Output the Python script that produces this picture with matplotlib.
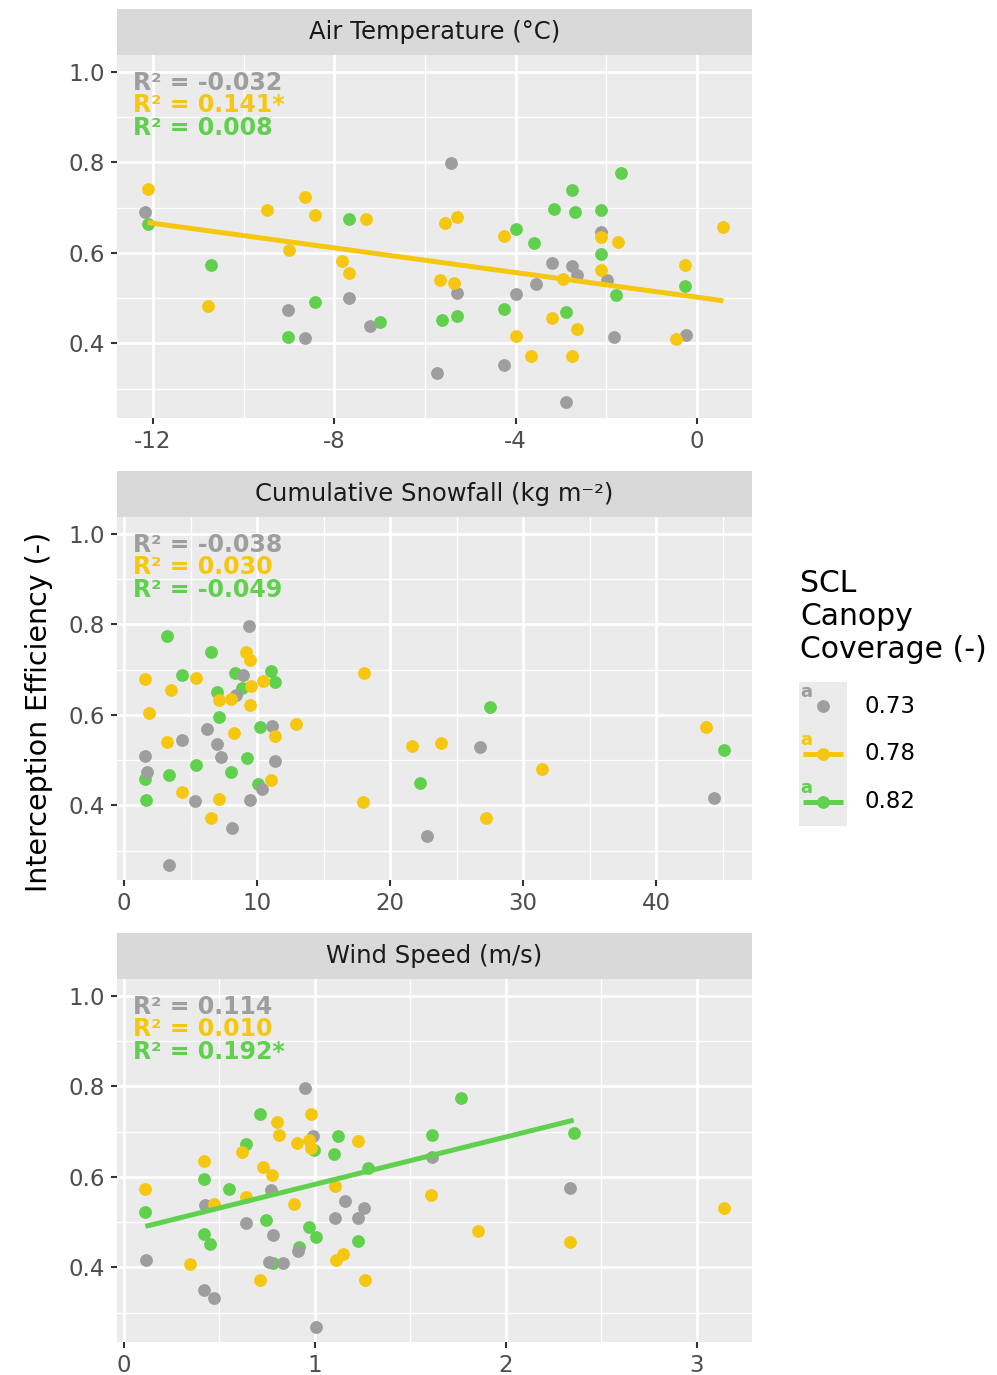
import numpy as np
import matplotlib.pyplot as plt

plt.rcParams['font.family'] = ['DejaVu Sans']
plt.rcParams['axes.unicode_minus'] = False

# colours of the three canopy coverage classes
col_73 = '#9E9E9E'
col_78 = '#F5C710'
col_82 = '#61D04F'
legend_labels = ['0.73', '0.78', '0.82']

# panel 1 - air temperature (deg C) vs interception efficiency
temp_73_x = [-12.18, -9.02, -8.65, -7.68, -7.22, -5.74, -5.43, -5.29, -3.99, -4.26, -3.55, -3.20, -2.76, -2.65, -2.89, -2.12, -1.98, -1.84, -0.25]
temp_73_y = [0.691, 0.474, 0.411, 0.501, 0.439, 0.335, 0.798, 0.512, 0.509, 0.352, 0.531, 0.577, 0.570, 0.550, 0.270, 0.646, 0.540, 0.413, 0.418]
temp_78_x = [-12.12, -10.78, -9.49, -8.64, -8.43, -9.00, -7.30, -7.83, -7.68, -5.57, -5.29, -5.66, -5.35, -4.26, -3.99, -3.67, -2.96, -3.20, -2.65, -2.76, -2.12, -1.74, -2.12, -0.26, -0.46, 0.58]
temp_78_y = [0.741, 0.483, 0.694, 0.723, 0.683, 0.607, 0.675, 0.582, 0.556, 0.666, 0.680, 0.540, 0.534, 0.638, 0.417, 0.373, 0.543, 0.457, 0.431, 0.373, 0.635, 0.623, 0.562, 0.574, 0.409, 0.657]
temp_82_x = [-12.12, -10.72, -8.43, -9.02, -7.68, -6.99, -5.62, -5.29, -3.99, -3.60, -4.26, -3.16, -2.76, -2.70, -2.89, -2.12, -2.11, -1.79, -1.68, -0.26]
temp_82_y = [0.663, 0.573, 0.491, 0.413, 0.674, 0.447, 0.452, 0.460, 0.652, 0.621, 0.476, 0.697, 0.739, 0.691, 0.469, 0.695, 0.598, 0.507, 0.776, 0.526]
temp_r2 = ['R² = -0.032', 'R² = 0.141*', 'R² = 0.008']
temp_sig = [False, True, False]

# panel 2 - cumulative snowfall
snow_73_x = [9.37, 8.97, 8.42, 6.22, 11.1, 4.39, 6.99, 1.58, 7.27, 11.38, 1.70, 10.35, 5.34, 9.50, 8.09, 3.36, 26.72, 22.75, 44.33]
snow_73_y = [0.797, 0.688, 0.643, 0.568, 0.576, 0.545, 0.535, 0.510, 0.507, 0.499, 0.473, 0.437, 0.409, 0.411, 0.350, 0.269, 0.529, 0.333, 0.416]
snow_78_x = [1.60, 1.88, 3.51, 3.26, 4.39, 5.44, 6.57, 7.12, 7.17, 8.07, 8.25, 9.17, 9.45, 9.45, 9.52, 10.43, 11.08, 11.38, 12.9, 18.07, 17.97, 21.68, 23.83, 27.19, 31.43, 43.73]
snow_78_y = [0.678, 0.604, 0.655, 0.540, 0.429, 0.681, 0.371, 0.633, 0.415, 0.636, 0.559, 0.739, 0.720, 0.621, 0.663, 0.674, 0.455, 0.553, 0.580, 0.692, 0.408, 0.532, 0.538, 0.371, 0.480, 0.572]
snow_82_x = [3.26, 6.57, 4.33, 8.35, 11.05, 11.38, 8.87, 6.97, 7.12, 10.2, 9.27, 5.44, 1.58, 3.36, 8.07, 10.05, 1.68, 27.47, 22.23, 45.11]
snow_82_y = [0.774, 0.738, 0.688, 0.693, 0.696, 0.673, 0.660, 0.651, 0.596, 0.572, 0.504, 0.489, 0.458, 0.467, 0.473, 0.447, 0.411, 0.618, 0.450, 0.523]
snow_r2 = ['R² = -0.038', 'R² = 0.030', 'R² = -0.049']
snow_sig = [False, False, False]

# panel 3 - wind speed
wind_73_x = [0.949, 0.988, 0.768, 0.426, 1.157, 1.258, 0.640, 1.105, 1.227, 0.780, 0.909, 0.113, 0.759, 0.831, 0.421, 0.470, 1.005, 1.613, 2.335]
wind_73_y = [0.797, 0.690, 0.571, 0.537, 0.546, 0.530, 0.499, 0.508, 0.510, 0.472, 0.436, 0.416, 0.411, 0.410, 0.350, 0.333, 0.269, 0.643, 0.576]
wind_78_x = [0.977, 0.803, 0.810, 0.904, 0.970, 0.979, 1.227, 0.616, 0.421, 0.730, 0.773, 0.112, 1.103, 0.640, 0.471, 0.892, 1.108, 1.147, 0.347, 0.712, 1.262, 1.609, 1.857, 2.335, 3.141]
wind_78_y = [0.739, 0.721, 0.692, 0.674, 0.682, 0.663, 0.679, 0.655, 0.635, 0.621, 0.604, 0.573, 0.579, 0.556, 0.540, 0.540, 0.416, 0.429, 0.408, 0.372, 0.372, 0.560, 0.480, 0.455, 0.532]
wind_82_x = [0.712, 1.119, 0.996, 1.098, 0.640, 0.421, 0.548, 0.112, 0.745, 0.421, 0.450, 0.970, 1.007, 0.915, 1.227, 0.782, 1.277, 1.764, 1.613, 2.356]
wind_82_y = [0.739, 0.690, 0.660, 0.650, 0.672, 0.596, 0.572, 0.523, 0.504, 0.473, 0.451, 0.490, 0.466, 0.445, 0.458, 0.410, 0.619, 0.774, 0.693, 0.696]
wind_r2 = ['R² = 0.114', 'R² = 0.010', 'R² = 0.192*']
wind_sig = [False, False, True]

W, H = 997, 1375
fig = plt.figure(figsize=(W / 100, H / 100), dpi=100)


def box(x0, y0, x1, y1):
    # pixel box (top-left origin) -> figure fraction rect
    return [x0 / W, 1 - y1 / H, (x1 - x0) / W, (y1 - y0) / H]


panels = [
    dict(title='Air Temperature (°C)', top=9,
         data=[(temp_73_x, temp_73_y), (temp_78_x, temp_78_y), (temp_82_x, temp_82_y)],
         r2=temp_r2, sig=temp_sig, xlim=(-12.795, 1.213),
         major=[-12, -8, -4, 0], minor=[-10, -6, -2]),
    dict(title='Cumulative Snowfall (kg m⁻²)', top=471,
         data=[(snow_73_x, snow_73_y), (snow_78_x, snow_78_y), (snow_82_x, snow_82_y)],
         r2=snow_r2, sig=snow_sig, xlim=(-0.53, 47.2),
         major=[0, 10, 20, 30, 40], minor=[5, 15, 25, 35, 45]),
    dict(title='Wind Speed (m/s)', top=933,
         data=[(wind_73_x, wind_73_y), (wind_78_x, wind_78_y), (wind_82_x, wind_82_y)],
         r2=wind_r2, sig=wind_sig, xlim=(-0.037, 3.29),
         major=[0, 1, 2, 3], minor=[0.5, 1.5, 2.5]),
]
colors = [col_73, col_78, col_82]

for p in panels:
    top = p['top']
    # facet strip
    sax = fig.add_axes(box(117, top, 752, top + 46))
    sax.set_facecolor('#D9D9D9')
    sax.set_xticks([])
    sax.set_yticks([])
    for s in sax.spines.values():
        s.set_visible(False)
    sax.text(0.5, 0.5, p['title'], ha='center', va='center', fontsize=17.5, color='#1A1A1A')

    ax = fig.add_axes(box(117, top + 46, 752, top + 409))
    ax.set_facecolor('#EBEBEB')
    for s in ax.spines.values():
        s.set_visible(False)
    ax.set_xlim(*p['xlim'])
    ax.set_ylim(0.235, 1.037)
    ax.set_xticks(p['major'])
    ax.set_xticks(p['minor'], minor=True)
    ax.set_yticks([0.4, 0.6, 0.8, 1.0])
    ax.set_yticks([0.3, 0.5, 0.7, 0.9], minor=True)
    ax.set_yticklabels(['0.4', '0.6', '0.8', '1.0'])
    ax.set_xticklabels([str(v) for v in p['major']])
    ax.grid(which='major', color='white', linewidth=2.0)
    ax.grid(which='minor', color='white', linewidth=1.0)
    ax.set_axisbelow(True)
    ax.tick_params(which='major', length=4.5, width=1.5, color='#333333',
                   labelsize=16.5, labelcolor='#4D4D4D', pad=4)
    ax.tick_params(which='minor', length=0)

    # points: green, grey, then yellow on top
    for i in [2, 0, 1]:
        xs, ys = p['data'][i]
        ax.scatter(xs, ys, s=85, color=colors[i], linewidths=0, zorder=3)
    # lm fits for the significant groups
    for i in range(3):
        if p['sig'][i]:
            xs, ys = p['data'][i]
            k, b = np.polyfit(xs, ys, 1)
            xx = np.array([min(xs), max(xs)])
            ax.plot(xx, k * xx + b, color=colors[i], lw=3.6, solid_capstyle='butt', zorder=4)
    for i, ty in enumerate([0.923, 0.862, 0.799]):
        ax.text(0.025, ty, p['r2'][i], transform=ax.transAxes, ha='left', va='center',
                fontsize=17, fontweight='bold', color=colors[i], zorder=5)

fig.text(39 / W, 1 - 712 / H, 'Interception Efficiency (-)', rotation=90,
         ha='center', va='center', fontsize=20.5, color='black')

# legend
fig.text(800 / W, 1 - 569 / H, 'SCL\nCanopy\nCoverage (-)', ha='left', va='top',
         fontsize=21.5, linespacing=1.17, color='black')
lax = fig.add_axes(box(799, 682, 847, 826))
lax.set_facecolor('#EBEBEB')
lax.set_xlim(0, 1)
lax.set_ylim(0, 3)
lax.set_xticks([])
lax.set_yticks([])
for s in lax.spines.values():
    s.set_visible(False)
for i in range(3):
    yc = 2.5 - i
    if i > 0:
        lax.plot([0.08, 0.92], [yc, yc], color=colors[i], lw=3.6, solid_capstyle='butt')
    lax.scatter([0.5], [yc], s=85, color=colors[i], linewidths=0, zorder=3)
    lax.text(0.16, yc + 0.3, 'a', ha='center', va='center', fontsize=13,
             fontweight='bold', color=colors[i])
    fig.text(864 / W, 1 - (706 + 48 * i) / H, legend_labels[i], ha='left', va='center',
             fontsize=16.5, color='black')

fig.savefig('out.png', dpi=100)
